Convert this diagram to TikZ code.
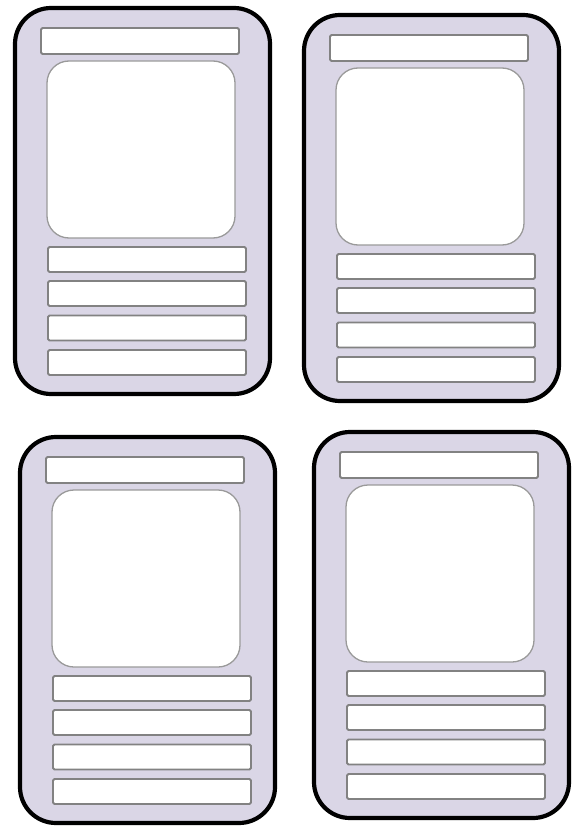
\documentclass[tikz,border=0pt]{standalone}
\usepackage{xcolor}
\usepackage{tikz}
\usetikzlibrary{calc}
\definecolor{cardlilac}{HTML}{DAD6E6}
\definecolor{slotgray}{HTML}{828282}
\definecolor{picgray}{HTML}{9A9A9A}

% one blank card, top left corner of its outline at (#2,#3)
\newcommand{\blankcard}[3]{%
    \node[cardbody, anchor=north west] (#1) at (#2,#3) {};
    \node[slot, minimum width=198pt, minimum height=26pt, anchor=north west]
        (#1-title) at ($(#1.north west)+(26,20)$) {};
    \node[picframe, anchor=north west] (#1-pic) at ($(#1.north west)+(32,53)$) {};
    \foreach \dy [count=\i] in {239,273,307.5,342}
        \node[slot, minimum width=198pt, minimum height=25pt, anchor=north west]
            (#1-row\i) at ($(#1.north west)+(33,\dy)$) {};
}

\begin{document}
\begin{tikzpicture}[
    x=1pt, y=-1pt,
    cardbody/.style={draw=black, fill=cardlilac, line width=4.2pt, rounded corners=36pt,
                     minimum width=255pt, minimum height=386pt, inner sep=0pt, outer sep=0pt},
    slot/.style={draw=slotgray, fill=white, line width=1.8pt, rounded corners=1.5pt,
                 inner sep=0pt, outer sep=0pt},
    picframe/.style={slot, draw=picgray, line width=1.3pt, rounded corners=22pt,
                     minimum width=188pt, minimum height=177pt},
]
    \useasboundingbox (0,0) rectangle (574,826);

    % top row
    \blankcard{card1}{15}{8}
    \blankcard{card2}{304}{15}

    % bottom row
    \blankcard{card3}{20}{437}
    \blankcard{card4}{314}{432}
\end{tikzpicture}
\end{document}
